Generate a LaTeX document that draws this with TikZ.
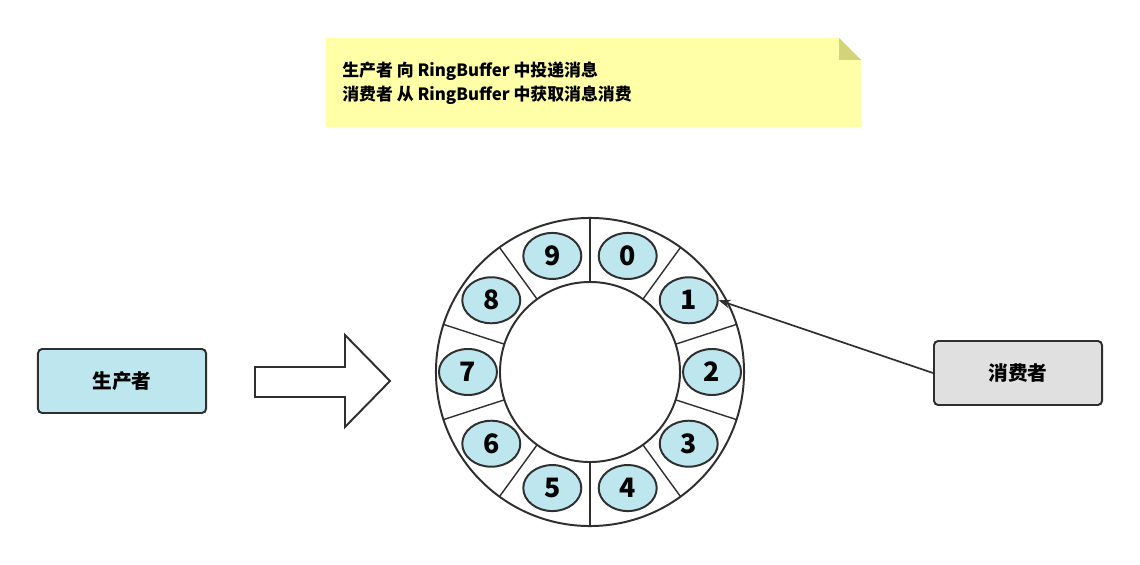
\documentclass[tikz,border=0pt]{standalone}
\usepackage{fontspec}
\setmainfont{Noto Sans CJK SC}
\usetikzlibrary{calc, positioning, arrows.meta, shapes.geometric}
\definecolor{slotfill}{HTML}{BDE6EE}
\definecolor{notefill}{HTML}{FFFFA8}
\definecolor{foldfill}{HTML}{D3D37A}
\definecolor{edgecol}{HTML}{2F2F2F}

\begin{document}
\begin{tikzpicture}[
		x=0.025cm, y=-0.025cm,
		>=Stealth,
		actor/.style={
				draw=edgecol,
				rounded corners=3pt,
				line width=1.4pt,
				minimum width=4.2cm,
				minimum height=1.6cm,
				font=\fontsize{14}{16}\selectfont\bfseries
			},
		slot/.style={
				draw=edgecol,
				ellipse,
				fill=slotfill,
				line width=1.4pt,
				minimum width=1.45cm,
				minimum height=1.15cm,
				inner sep=0pt,
				font=\fontsize{19}{20}\selectfont\bfseries
			},
		ring/.style={
				draw=edgecol,
				line width=1.4pt
			}
	]
	\useasboundingbox (0,0) rectangle (1140,565);

	% Note
	\fill[notefill] (326,38) -- (839,38) -- (861,60) -- (861,127) -- (326,127) -- cycle;
	\fill[foldfill] (839,38) -- (839,60) -- (861,60) -- cycle;
	\node[anchor=north west, align=left, inner sep=0pt, name=note,
		font=\fontsize{12}{17}\selectfont\bfseries] at (342,62)
		{生产者 向 RingBuffer 中投递消息\\消费者 从 RingBuffer 中获取消息消费};

	% Ring buffer
	\coordinate (center) at (590,372);
	\draw[ring] (center) circle[radius=3.85cm];
	\draw[ring] (center) circle[radius=2.25cm];
	\foreach \k in {0,...,9} {
			\draw[ring, line width=1pt] ($(center)+(90-36*\k:2.25cm)$) -- ($(center)+(90-36*\k:3.85cm)$);
			\node[slot, name=n\k] at ($(center)+(72-36*\k:3.05cm)$) {\k};
		}

	% Producer and consumer
	\node[actor, fill=slotfill, name=producer] at (122,381) {生产者};
	\node[actor, fill=black!12, name=consumer] at (1018,373) {消费者};

	% Hollow arrow
	\draw[ring, fill=white] (255,367) -- (345,367) -- (345,335) -- (390,381)
		-- (345,427) -- (345,397) -- (255,397) -- cycle;

	% Paths
	\draw[->, edgecol, line width=1.2pt] (consumer.west) -- (n1.east);
\end{tikzpicture}
\end{document}
